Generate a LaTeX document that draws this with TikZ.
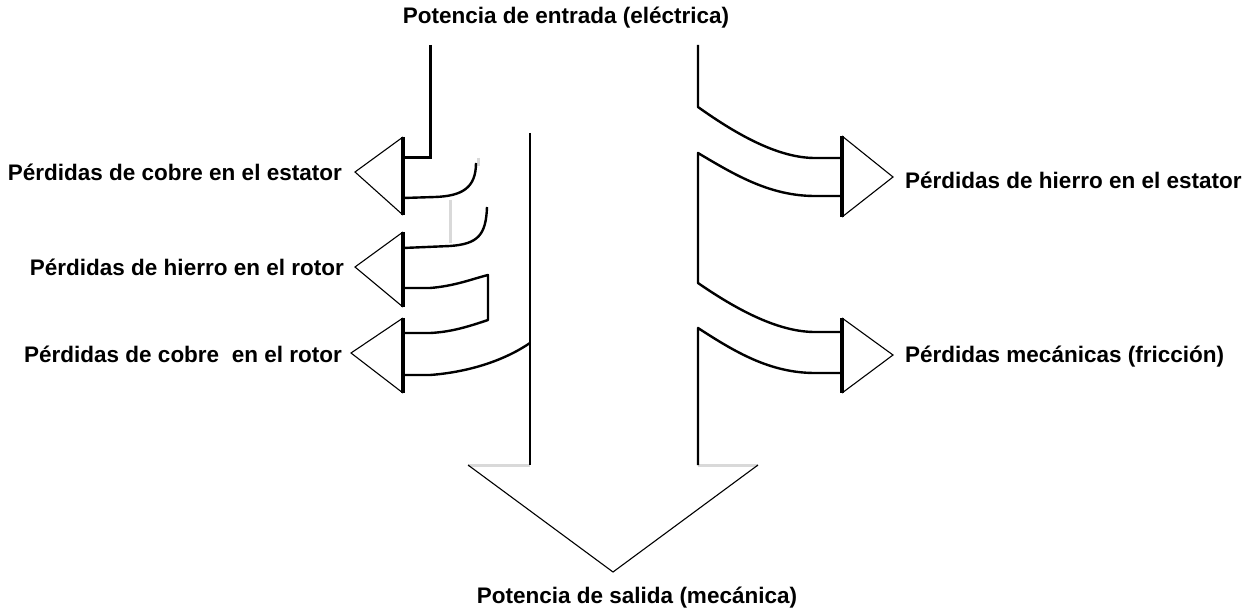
\documentclass[tikz,border=0pt]{standalone}
\usepackage{fontspec}
\setmainfont{Liberation Sans}
\begin{document}
\begin{tikzpicture}[x=1pt,y=-1pt,
  lbl/.style={font=\bfseries\fontsize{22.5}{24}\selectfont, inner sep=0pt},
  thick line/.style={line width=3pt, line cap=butt, line join=miter},
  body/.style={line width=2.4pt, line join=round},
  tri/.style={line width=1.1pt},
  base/.style={line width=3.4pt},
  ghost/.style={line width=3pt, color=black!15}]
\useasboundingbox (0,0) rectangle (1251,612);

% labels
\node[lbl] (tin)  at (566,18)  {Potencia de entrada (eléctrica)};
\node[lbl] (tout) at (637,598) {Potencia de salida (mecánica)};
\node[lbl, anchor=east] (l1) at (342,172) {Pérdidas de cobre en el estator};
\node[lbl, anchor=east] (l2) at (344,267) {Pérdidas de hierro en el rotor};
\node[lbl, anchor=east] (l3) at (342,354) {Pérdidas de cobre\ \ en el rotor};
\node[lbl, anchor=west] (r1) at (905,180) {Pérdidas de hierro en el estator};
\node[lbl, anchor=west] (r2) at (905,357) {Pérdidas mecánicas (fricción)};

% light grey bits
\draw[ghost] (478,158) -- (478,166);
\draw[ghost] (450,200) -- (450,243);
\draw[ghost] (468,465) -- (530,465);
\draw[ghost] (698,465) -- (758,465);

% left input line
\draw[thick line] (430,45) -- (430,158) -- (403,158);

% left loss arrows
\draw[base] (403,137) -- (403,215);
\draw[tri] (403,137) -- (355,172) -- (403,215);
\draw[base] (403,232) -- (403,307);
\draw[tri] (403,232) -- (355,267) -- (403,307);
\draw[base] (403,318) -- (403,393);
\draw[tri] (403,318) -- (351,353) -- (403,393);

% left inner flow lines
\draw[body] (403,198) -- (435,197) .. controls (462,196) and (476,188) .. (476,163);
\draw[body] (403,248) -- (450,246) .. controls (478,244) and (486,235) .. (487,207);
\draw[body] (403,288) -- (430,288) .. controls (455,286) and (472,279) .. (488,275)
  -- (488,320) .. controls (470,326) and (452,332) .. (430,333) -- (403,333);
\draw[body] (403,375) -- (430,375) .. controls (470,372) and (505,360) .. (530,343);

% main left wall
\draw[body] (530,133) -- (530,465);

% right side
\draw[body] (698,45) -- (698,107) .. controls (740,137) and (780,158) .. (815,158) -- (842,158);
\draw[body] (842,196) -- (815,196) .. controls (770,196) and (735,175) .. (698,153)
  -- (698,283) .. controls (740,312) and (780,332) .. (815,332) -- (842,332);
\draw[body] (842,373) -- (815,373) .. controls (770,373) and (735,352) .. (698,328)
  -- (698,465);

% right loss arrows
\draw[base] (842,136) -- (842,217);
\draw[tri] (842,136) -- (893,177) -- (842,217);
\draw[base] (842,318) -- (842,393);
\draw[tri] (842,318) -- (893,355) -- (842,393);

% output arrow head
\coordinate (tip) at (613,572);
\draw[tri] (468,465) -- (tip) -- (758,465);
\end{tikzpicture}
\end{document}
